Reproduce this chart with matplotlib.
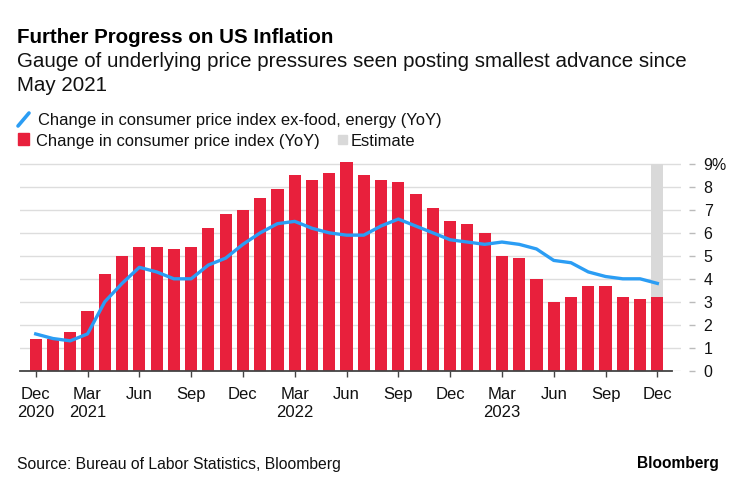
import matplotlib
matplotlib.use('Agg')
import matplotlib.pyplot as plt
from matplotlib.lines import Line2D
from matplotlib.patches import Rectangle

# Monthly data, Dec 2020 .. Dec 2023 (Dec 2023 is an estimate)
months = ['Dec', 'Jan', 'Feb', 'Mar', 'Apr', 'May', 'Jun', 'Jul', 'Aug', 'Sep', 'Oct', 'Nov',
          'Dec', 'Jan', 'Feb', 'Mar', 'Apr', 'May', 'Jun', 'Jul', 'Aug', 'Sep', 'Oct', 'Nov',
          'Dec', 'Jan', 'Feb', 'Mar', 'Apr', 'May', 'Jun', 'Jul', 'Aug', 'Sep', 'Oct', 'Nov',
          'Dec']
cpi = [1.4, 1.4, 1.7, 2.6, 4.2, 5.0, 5.4, 5.4, 5.3, 5.4, 6.2, 6.8,
       7.0, 7.5, 7.9, 8.5, 8.3, 8.6, 9.1, 8.5, 8.3, 8.2, 7.7, 7.1,
       6.5, 6.4, 6.0, 5.0, 4.9, 4.0, 3.0, 3.2, 3.7, 3.7, 3.2, 3.1,
       3.2]
core = [1.6, 1.4, 1.3, 1.6, 3.0, 3.8, 4.5, 4.3, 4.0, 4.0, 4.6, 4.9,
        5.5, 6.0, 6.4, 6.5, 6.2, 6.0, 5.9, 5.9, 6.3, 6.6, 6.3, 6.0,
        5.7, 5.6, 5.5, 5.6, 5.5, 5.3, 4.8, 4.7, 4.3, 4.1, 4.0, 4.0,
        3.8]
estimate_idx = 36
tick_idx = list(range(0, 37, 3))
tick_labels = ['Dec\n2020', 'Mar\n2021', 'Jun', 'Sep', 'Dec', 'Mar\n2022', 'Jun', 'Sep',
               'Dec', 'Mar\n2023', 'Jun', 'Sep', 'Dec']
y_ticks = list(range(10))
y_labels = [str(v) for v in y_ticks[:-1]] + ['9%']

RED = '#e8203c'
BLUE = '#2b9df4'
GRAY = '#d9d9d9'
W, H = 739, 484

plt.rcParams['font.family'] = ['Liberation Sans', 'DejaVu Sans']


def fx(px):
    return px / W


def fy(py):
    return 1 - py / H


fig = plt.figure(figsize=(W / 100, H / 100), dpi=100)
ax = fig.add_axes([fx(20), 1 - 370.7 / H, 661 / W, 210.2 / H])

x = list(range(len(cpi)))
ax.bar([estimate_idx], [9], width=0.7, color=GRAY, zorder=1)
ax.bar(x, cpi, width=0.7, color=RED, zorder=2)
ax.plot(x, core, color=BLUE, lw=2.4, zorder=3, solid_joinstyle='round')

ax.set_xlim(-0.91, 37.37)
ax.set_ylim(0, 9.15)

for s in ['top', 'left', 'bottom']:
    ax.spines[s].set_visible(False)
ax.spines['right'].set_visible(False)
ax.spines['right'].set_position(('outward', 6))
ax.plot([-0.91, 36.85], [0, 0], color='#444444', lw=1.3, zorder=4, clip_on=False)

ax.set_xticks(tick_idx)
ax.set_xticklabels(tick_labels, fontsize=12, color='#111111', linespacing=1.3)
ax.tick_params(axis='x', length=4.5, width=1, color='#444444', pad=7)

ax.yaxis.tick_right()
ax.set_yticks(y_ticks)
ax.set_yticklabels(y_labels, fontsize=11.5, color='#111111')
ax.tick_params(axis='y', length=4.3, width=1, color='#bbbbbb', pad=6)
ax.yaxis.grid(True, color='#dddddd', lw=1)
ax.set_axisbelow(True)

# Header
fig.text(fx(17), fy(43), 'Further Progress on US Inflation', fontsize=14.8,
         fontweight='bold', va='baseline', ha='left', color='#000000')
fig.text(fx(17), fy(67), 'Gauge of underlying price pressures seen posting smallest advance since',
         fontsize=14.8, va='baseline', ha='left', color='#111111')
fig.text(fx(17), fy(91), 'May 2021', fontsize=14.8, va='baseline', ha='left', color='#111111')

# Legend
fig.add_artist(Line2D([fx(18), fx(29)], [fy(126), fy(113)], color=BLUE, lw=2.6,
                      solid_capstyle='round', transform=fig.transFigure))
fig.text(fx(38), fy(125), 'Change in consumer price index ex-food, energy (YoY)',
         fontsize=11.9, va='baseline', ha='left', color='#111111')
fig.add_artist(Rectangle((fx(18), fy(145)), 11 / W, 12 / H, color=RED,
                         transform=fig.transFigure))
fig.text(fx(36), fy(146), 'Change in consumer price index (YoY)',
         fontsize=11.9, va='baseline', ha='left', color='#111111')
fig.add_artist(Rectangle((fx(338), fy(144)), 9 / W, 9 / H, color=GRAY,
                         transform=fig.transFigure))
fig.text(fx(351), fy(146), 'Estimate', fontsize=11.9, va='baseline', ha='left', color='#111111')

# Footer
fig.text(fx(17), fy(469), 'Source: Bureau of Labor Statistics, Bloomberg', fontsize=11.3,
         va='baseline', ha='left', color='#111111')
fig.text(fx(719), fy(468), 'Bloomberg', fontsize=11.2, fontweight='bold',
         va='baseline', ha='right', color='#000000')

fig.savefig('out.png', dpi=100)
